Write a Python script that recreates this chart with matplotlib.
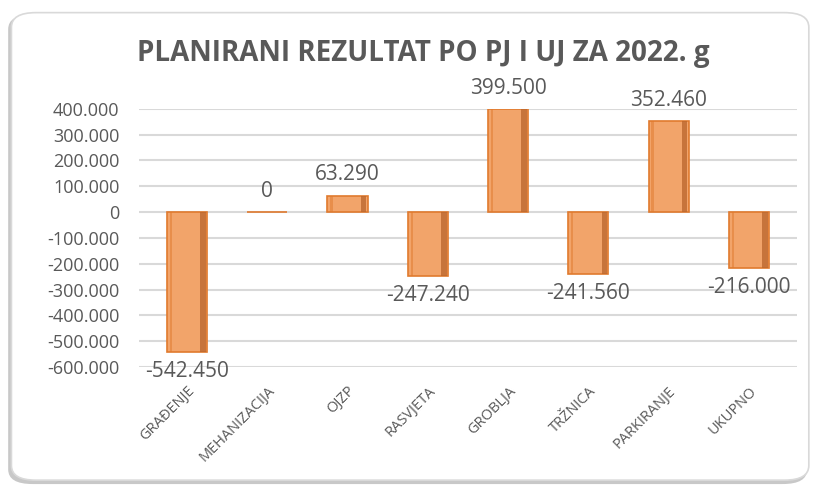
import numpy as np
import matplotlib.pyplot as plt
from matplotlib.patches import FancyBboxPatch
from matplotlib.ticker import FuncFormatter, MultipleLocator

plt.rcParams['font.family'] = ['Open Sans', 'DejaVu Sans']

categories = ["GRAĐENJE", "MEHANIZACIJA", "OJZP", "RASVJETA", "GROBLJA",
              "TRŽNICA", "PARKIRANJE", "UKUPNO"]
values = [-542450, 0, 63290, -247240, 399500, -241560, 352460, -216000]

txt = "#595959"
fill = "#F2A46A"
edge = "#E07A2E"
dark = "#B9652C"


def fmt(v, pos=None):
    s = "{:,.0f}".format(v).replace(",", ".")
    return s


fig = plt.figure(figsize=(8.17, 4.86), dpi=100)

# chart frame with a soft shadow
shadow = FancyBboxPatch((0.010, 0.004), 0.978, 0.966, boxstyle="round,pad=0,rounding_size=0.03",
                        transform=fig.transFigure, facecolor="#C8C8C8", edgecolor="none", zorder=-2)
frame = FancyBboxPatch((0.014, 0.012), 0.976, 0.962, boxstyle="round,pad=0,rounding_size=0.03",
                       transform=fig.transFigure, facecolor="white", edgecolor="#D9D9D9",
                       linewidth=1.2, zorder=-1)
fig.patches.extend([shadow, frame])

ax = fig.add_axes([0.170, 0.245, 0.8055, 0.531])
ax.set_facecolor("none")

x = np.arange(len(categories))
w = 0.5
ax.bar(x, values, width=w, color=fill, edgecolor=edge, linewidth=1.2, zorder=3)
# darker strip on the right side of each bar
ax.bar(x + w / 2 - 0.05, values, width=0.07, color=dark, edgecolor="none", alpha=0.75, zorder=4)
ax.bar(x - w / 2 + 0.05, values, width=0.03, color=edge, edgecolor="none", alpha=0.5, zorder=4)

for xi, v in zip(x, values):
    if v >= 0:
        ax.annotate(fmt(v), (xi, v), xytext=(0, 7.5), textcoords="offset points",
                    ha="center", va="bottom", fontsize=15, color=txt)
    else:
        ax.annotate(fmt(v), (xi, v), xytext=(0, -6.5), textcoords="offset points",
                    ha="center", va="top", fontsize=15, color=txt)

ax.set_xlim(-0.6, 7.6)
ax.set_ylim(-600000, 400000)
ax.yaxis.set_major_locator(MultipleLocator(100000))
ax.yaxis.set_major_formatter(FuncFormatter(fmt))
ax.grid(axis="y", color="#D9D9D9", linewidth=1.5, zorder=0)
ax.set_axisbelow(True)
for s in ax.spines.values():
    s.set_visible(False)
ax.tick_params(axis="both", length=0, colors=txt)
ax.tick_params(axis="y", labelsize=13, pad=14)
ax.set_xticks(x)
ax.set_xticklabels(categories, rotation=45, ha="right", rotation_mode="anchor",
                   fontsize=10.5, color=txt)
ax.tick_params(axis="x", pad=12)

fig.text(0.518, 0.890, "PLANIRANI REZULTAT PO PJ I UJ ZA 2022. g", ha="center", va="center",
         fontsize=20, fontweight="bold", color=txt)

fig.savefig("out.png", dpi=100)
